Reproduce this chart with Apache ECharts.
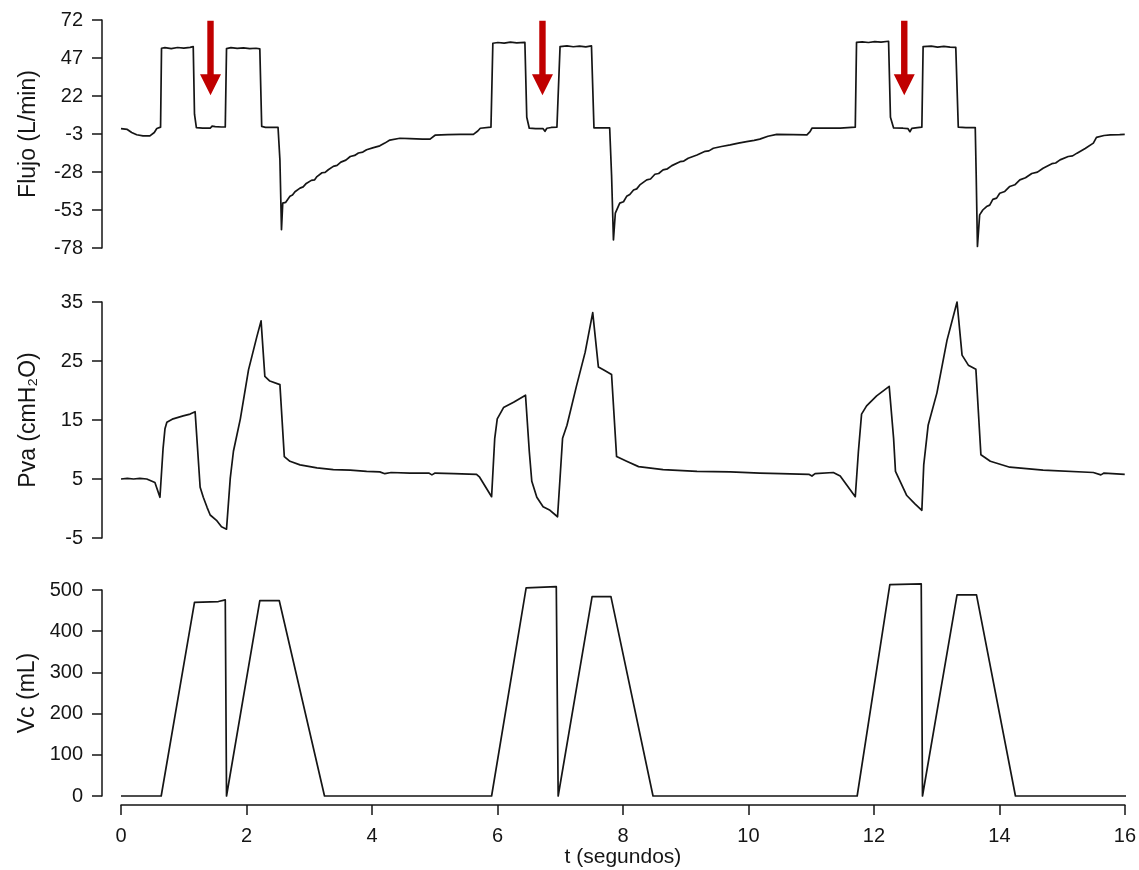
<!DOCTYPE html>
<html>
<head>
<meta charset="utf-8">
<script src="https://cdn.jsdelivr.net/npm/echarts@6/dist/echarts.min.js"></script>
<style>
  html, body { margin: 0; padding: 0; background: #ffffff; }
  #chart { width: 1139px; height: 870px; }
</style>
</head>
<body>
<div id="chart"></div>
<script>
// Tick values for each axis
const timeTicks = [0, 2, 4, 6, 8, 10, 12, 14, 16];
const flujoTicks = [-78, -53, -28, -3, 22, 47, 72];
const pvaTicks = [-5, 5, 15, 25, 35];
const vcTicks = [0, 100, 200, 300, 400, 500];

// Flow (L/min) against time (s)
const flujo = [
  [0, 0.5], [0.1, 0], [0.17, -2], [0.25, -3.5], [0.35, -4.2], [0.46, -4.2], [0.53, -2], [0.57, 0.6], [0.63, 1.5],
  [0.645, 53.4], [0.7, 53.8], [0.8, 53.2], [0.9, 53.9], [1.0, 53.5], [1.1, 54], [1.15, 54.5],
  [1.17, 10], [1.2, 1.2], [1.3, 0.9], [1.42, 0.8], [1.45, 2.2], [1.5, 1.8], [1.6, 1.6], [1.66, 1.6],
  [1.68, 53.2], [1.75, 53.8], [1.85, 53.3], [1.95, 53.6], [2.05, 53.2], [2.15, 53.4], [2.21, 53],
  [2.24, 2], [2.3, 1.4], [2.4, 1.4], [2.5, 1.4],
  [2.53, -20], [2.555, -66], [2.575, -48.5], [2.62, -48], [2.69, -44], [2.73, -43.2], [2.77, -41], [2.85, -38.6], [2.9, -37.8],
  [2.95, -35.5], [3.03, -33.5], [3.08, -33.2], [3.12, -31], [3.2, -28.5], [3.25, -28.2], [3.3, -26.5], [3.38, -24.3],
  [3.44, -23.6], [3.5, -21.5], [3.58, -20.2], [3.65, -17.8], [3.72, -17.1], [3.78, -15.5], [3.85, -14.9],
  [3.91, -13.4], [4.02, -12], [4.12, -10.8], [4.2, -9], [4.28, -7], [4.44, -5.8], [4.6, -6], [4.8, -6.4], [4.92, -6.4],
  [5.0, -3.8], [5.2, -3.4], [5.4, -3.3], [5.61, -3.2], [5.68, -1], [5.72, 0.8], [5.89, 1.5],
  [5.92, 56.7], [6.0, 57.2], [6.1, 56.8], [6.2, 57.4], [6.3, 57], [6.43, 57.3],
  [6.46, 8], [6.5, 0.8], [6.6, 0.6], [6.72, 0.5], [6.75, -1.2], [6.78, 0.8], [6.85, 1.3], [6.94, 1.5],
  [6.99, 54.5], [7.1, 55], [7.2, 54.4], [7.3, 54.8], [7.4, 54.3], [7.49, 55],
  [7.53, 1], [7.6, 1], [7.7, 1], [7.78, 1],
  [7.81, -30], [7.84, -72.7], [7.87, -55], [7.94, -48.5], [8.0, -47.6], [8.05, -44], [8.1, -42.8], [8.16, -39.8],
  [8.21, -39.1], [8.26, -36.5], [8.37, -33.2], [8.43, -32.6], [8.5, -29.5], [8.56, -29], [8.63, -26.6], [8.7, -25.9],
  [8.77, -23.8], [8.9, -21.2], [8.96, -20.8], [9.03, -19], [9.17, -16.8], [9.3, -14.4], [9.36, -14.1], [9.43, -12.4],
  [9.56, -11.2], [9.7, -10.2], [9.83, -9], [9.96, -8], [10.08, -7.2], [10.17, -6.4], [10.3, -4.5], [10.44, -3.2],
  [10.7, -3.4], [10.92, -3.6], [10.97, -1.5], [11.0, 0.8], [11.2, 0.9], [11.45, 0.9], [11.69, 1.5],
  [11.71, 57.3], [11.8, 57.6], [11.9, 57.2], [12.0, 57.8], [12.1, 57.4], [12.22, 58],
  [12.25, 8], [12.3, 1], [12.45, 0.8], [12.53, 0.5], [12.56, -1.5], [12.59, 0.7], [12.68, 1.2], [12.75, 1.5],
  [12.77, 54.5], [12.9, 54.8], [13.0, 54.2], [13.1, 54.6], [13.2, 54.1], [13.29, 54],
  [13.33, 1.5], [13.45, 1.2], [13.6, 1.2],
  [13.615, -30], [13.635, -77], [13.67, -56.2], [13.72, -53], [13.78, -50.7], [13.83, -49.8], [13.88, -46], [13.94, -45.2],
  [13.99, -42], [14.07, -40.8], [14.15, -37.5], [14.23, -36.4], [14.31, -33.2], [14.4, -31.8], [14.5, -29], [14.59, -28.1],
  [14.68, -25.5], [14.82, -22.5], [14.88, -22.1], [14.95, -20], [15.08, -17.8], [15.15, -17.4], [15.22, -15.6], [15.35, -12.5],
  [15.48, -9], [15.53, -5.2], [15.65, -4], [15.75, -3.6], [15.9, -3.4], [15.98, -3.2]
];

// Airway pressure (cmH2O) against time (s)
const pva = [
  [0, 5], [0.1, 5.1], [0.2, 5], [0.3, 5.1], [0.41, 5], [0.54, 4.4], [0.62, 1.9], [0.67, 10.2], [0.7, 13.5], [0.73, 14.6],
  [0.83, 15.2], [0.99, 15.7], [1.1, 16], [1.18, 16.4], [1.26, 3.6], [1.31, 1.9], [1.37, 0.2], [1.42, -1.1], [1.52, -2],
  [1.6, -3.1], [1.68, -3.5], [1.74, 5.2], [1.79, 9.7], [1.9, 15.2], [2.03, 23.5], [2.16, 29], [2.23, 31.8], [2.29, 22.4],
  [2.37, 21.6], [2.53, 21], [2.6, 8.8], [2.69, 8], [2.85, 7.4], [3.12, 6.9], [3.38, 6.6], [3.65, 6.5], [3.91, 6.3],
  [4.12, 6.2], [4.2, 5.9], [4.3, 6.1], [4.6, 6], [4.9, 6], [4.95, 5.7], [5.0, 6], [5.3, 5.9], [5.66, 5.8], [5.71, 5.3],
  [5.9, 2], [5.95, 11.9], [5.99, 15.2], [6.09, 17.1], [6.25, 18], [6.44, 19.2], [6.5, 9.7], [6.54, 4.6], [6.62, 1.9],
  [6.72, 0.3], [6.83, -0.3], [6.95, -1.4], [6.99, 5.2], [7.03, 11.9], [7.1, 14.1], [7.25, 20.7], [7.39, 26.5], [7.51, 33.2],
  [7.6, 24], [7.68, 23.5], [7.81, 22.7], [7.89, 8.8], [8.05, 8], [8.24, 7.1], [8.63, 6.6], [9.17, 6.3], [9.7, 6.2],
  [10.17, 6], [10.5, 5.9], [10.95, 5.8], [11.0, 5.5], [11.05, 5.9], [11.34, 6.1], [11.45, 5.5], [11.69, 2], [11.74, 9.7],
  [11.79, 16], [11.87, 17.4], [12.03, 19.1], [12.23, 20.7], [12.3, 11.9], [12.33, 6.3], [12.51, 2.2], [12.64, 0.8],
  [12.75, -0.3], [12.78, 7.4], [12.85, 14.1], [12.99, 19.6], [13.15, 28.5], [13.31, 35], [13.39, 26], [13.49, 24.3],
  [13.61, 23.6], [13.69, 9.1], [13.84, 8], [14.15, 7], [14.68, 6.5], [15.48, 6.1], [15.6, 5.7], [15.65, 6], [15.98, 5.8]
];

// Delivered volume (mL) against time (s)
const vc = [
  [0, 0], [0.64, 0], [1.17, 470], [1.55, 472], [1.66, 476], [1.68, 0], [2.21, 474], [2.52, 474], [3.24, 0],
  [5.9, 0], [6.45, 505], [6.93, 508], [6.96, 0], [7.5, 484], [7.8, 484], [8.47, 0],
  [11.72, 0], [12.24, 513], [12.74, 515], [12.76, 0], [13.31, 488], [13.62, 488], [14.24, 0], [16, 0]
];

// Downward markers over the pause between the two flow pulses: [time, from, to]
const arrows = [[1.425, 71.5, 22.5], [6.71, 71.5, 22.5], [12.47, 71.5, 22.5]];

const ink = '#151515';
const font = 'Liberation Sans, Arial, sans-serif';
const axisW = 1.5;
const traceW = 1.7;

// Three stacked panels plus a thin strip holding the shared time axis below them
const grids = [
  { left: 121, right: 13, top: 20, height: 228 },
  { left: 121, right: 13, top: 302, height: 236 },
  { left: 121, right: 13, top: 590, height: 206 },
  { left: 121, right: 13, top: 796, height: 9 }
];

function timeAxis(i, visible) {
  return {
    gridIndex: i, type: 'value', position: 'bottom',
    min: timeTicks[0], max: timeTicks[timeTicks.length - 1], interval: timeTicks[1] - timeTicks[0],
    show: visible,
    axisLine: { show: visible, lineStyle: { color: ink, width: axisW } },
    axisTick: { show: visible, length: 10, lineStyle: { color: ink, width: axisW } },
    axisLabel: { show: visible, margin: 21, fontSize: 20, lineHeight: 20, color: ink, fontFamily: font },
    splitLine: { show: false },
    name: visible ? 't (segundos)' : '', nameLocation: 'middle', nameGap: 42, nameMoveOverlap: false,
    nameTextStyle: { fontSize: 21, color: ink, fontFamily: font }
  };
}

function yAxisFor(i, name, min, max, ticks) {
  return {
    gridIndex: i, type: 'value', position: 'left', min: min, max: max, offset: 19,
    axisLine: { show: true, onZero: false, lineStyle: { color: ink, width: axisW } },
    axisTick: { show: true, length: 10, customValues: ticks, lineStyle: { color: ink, width: axisW } },
    axisLabel: { customValues: ticks, margin: 19, fontSize: 20, color: ink, fontFamily: font },
    splitLine: { show: false },
    name: name, nameLocation: 'middle', nameGap: 62,
    nameTextStyle: { fontSize: 23, color: ink, fontFamily: font }
  };
}

function trace(i, data) {
  return {
    type: 'line', xAxisIndex: i, yAxisIndex: i, data: data,
    showSymbol: false, symbol: 'none', animation: false, clip: false,
    lineStyle: { color: ink, width: traceW, join: 'round' }
  };
}

const option = {
  backgroundColor: '#ffffff',
  animation: false,
  grid: grids,
  xAxis: [timeAxis(0, false), timeAxis(1, false), timeAxis(2, false), timeAxis(3, true)],
  yAxis: [
    yAxisFor(0, 'Flujo (L/min)', -78, 72, flujoTicks),
    yAxisFor(1, 'Pva (cmH₂O)', -5, 35, pvaTicks),
    yAxisFor(2, 'Vc (mL)', 0, 500, vcTicks),
    { gridIndex: 3, type: 'value', min: 0, max: 1, show: false }
  ],
  series: [
    trace(0, flujo),
    trace(1, pva),
    trace(2, vc),
    {
      type: 'custom', xAxisIndex: 0, yAxisIndex: 0, data: arrows,
      encode: { x: 0, y: [1, 2] }, animation: false, clip: false, z: 5,
      renderItem: function (params, api) {
        const t = api.value(0);
        const top = api.coord([t, api.value(1)]);
        const tip = api.coord([t, api.value(2)]);
        const headH = 21, halfShaft = 3.2, halfHead = 10.5;
        const baseY = tip[1] - headH;
        const cx = top[0];
        return {
          type: 'polygon',
          shape: {
            points: [
              [cx - halfShaft, top[1]], [cx + halfShaft, top[1]], [cx + halfShaft, baseY],
              [cx + halfHead, baseY], [cx, tip[1]], [cx - halfHead, baseY], [cx - halfShaft, baseY]
            ]
          },
          style: { fill: '#c00000' }
        };
      }
    }
  ]
};

const chart = echarts.init(document.getElementById('chart'), null, { renderer: 'canvas' });
chart.setOption(option);
</script>
</body>
</html>
